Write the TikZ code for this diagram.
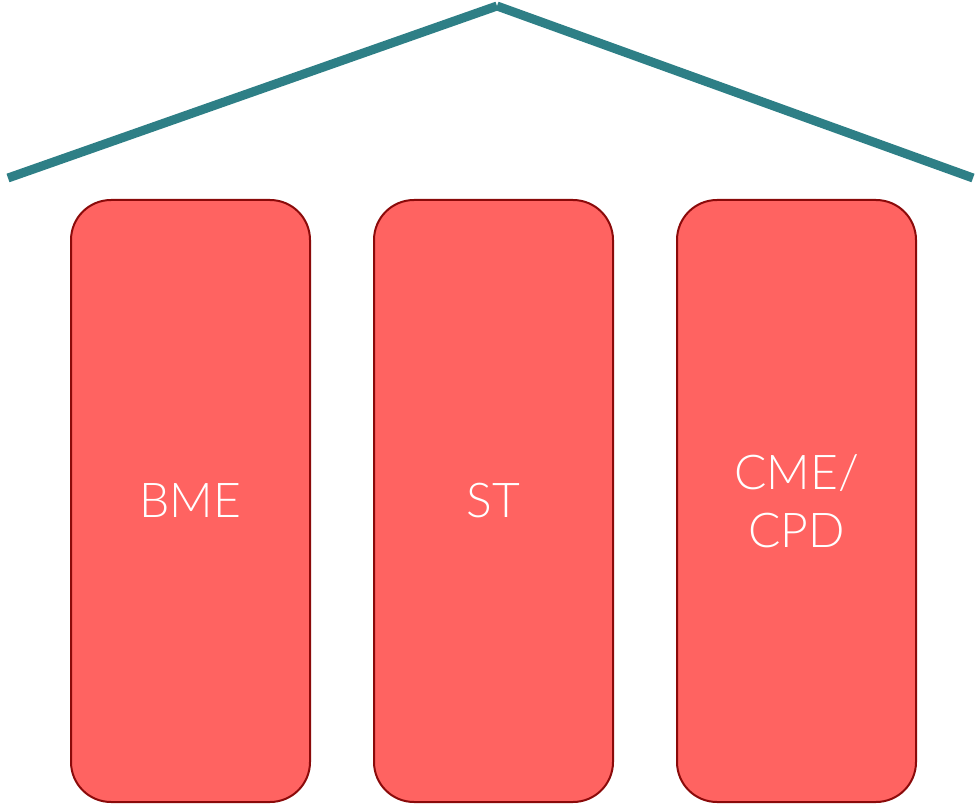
\documentclass[tikz,border=0pt]{standalone}
\usepackage{fontspec}
\setmainfont{Lato}[FontFace={l}{n}{Font=* Light}]
\usetikzlibrary{positioning}
\definecolor{roofteal}{HTML}{2E7F86}
\definecolor{pillarred}{HTML}{FF6361}
\definecolor{pillaredge}{HTML}{8B0A0A}

\begin{document}
\begin{tikzpicture}[x=1pt, y=1pt,
        pillar/.style={rectangle, rounded corners=40pt, draw=pillaredge, line width=2pt, fill=pillarred,
            minimum width=239pt, minimum height=602pt, text=white, align=center,
            font=\fontseries{l}\fontsize{48}{58}\selectfont}]
        \useasboundingbox (0, 0) rectangle (977, -805);

        \node[pillar] (bme) at (190.5, -501) {BME};
        \node[pillar] (st) at (493.5, -501) {ST};
        \node[pillar] (cme) at (796.5, -501) {CME/\\CPD};

        \coordinate (eaveL) at (8, -178);
        \coordinate (ridge) at (497, -6);
        \coordinate (eaveR) at (973, -178);

        \draw[roofteal, line width=9pt] (eaveL) -- (ridge);
        \draw[roofteal, line width=9pt] (ridge) -- (eaveR);
    \end{tikzpicture}
\end{document}
